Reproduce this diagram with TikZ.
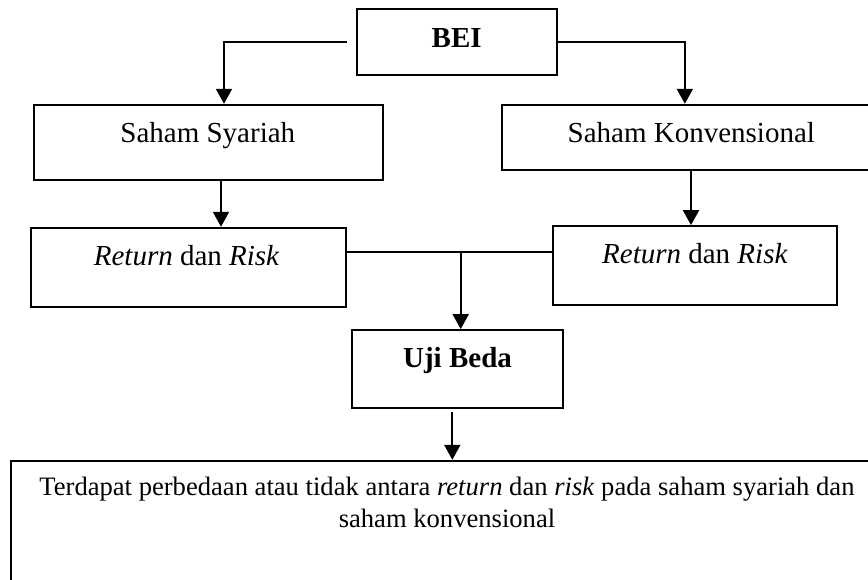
\documentclass[tikz,border=0pt]{standalone}
\usepackage{fontspec}
\setmainfont{Liberation Serif}
\usetikzlibrary{arrows.meta}
\begin{document}
\begin{tikzpicture}[x=1pt,y=-1pt,
    box/.style={draw,line width=1.8,inner sep=0,minimum width=#1},
    txt/.style={anchor=base,inner sep=0,font=\fontsize{29}{32}\selectfont},
    arr/.style={line width=2,-{Triangle[length=15,width=16]}}]
    \clip (0,0) rectangle (868,580);
    \node[box=200,minimum height=65.4] (bei) at (457,42) {};
    \node[box=349,minimum height=75.3] (ssy) at (208.5,142.35) {};
    \node[box=388.3,minimum height=65.3] (skv) at (695.85,137.35) {};
    \node[box=315,minimum height=79.6] (rl) at (188.2,267.5) {};
    \node[box=283.4,minimum height=79] (rr) at (695,265.5) {};
    \node[box=211.6,minimum height=77.7] (uji) at (457.5,368.85) {};
    \node[box=889,minimum height=159.3] (hasil) at (455.5,540.35) {};
    \node[txt] (tbei) at (456.7,47.3) {\textbf{BEI}};
    \node[txt] (tssy) at (207.8,142.3) {Saham Syariah};
    \node[txt] (tskv) at (691.3,142.3) {Saham Konvensional};
    \node[txt] (trl) at (186.7,265.7) {\textit{Return} dan \textit{Risk}};
    \node[txt] (trr) at (695,264) {\textit{Return} dan \textit{Risk}};
    \node[txt] (tuji) at (457.5,367.7) {\textbf{Uji Beda}};
    \node[txt,align=center,font=\fontsize{26.6}{32.3}\selectfont] (thasil) at (447,527.3)
        {Terdapat perbedaan atau tidak antara \textit{return} dan \textit{risk} pada saham syariah dan\\ saham konvensional};
    \coordinate (mid) at (460.7,252.3);
    \draw[arr,shorten <=9] (bei.west) -| ([xshift=15.5]ssy.north);
    \draw[arr] (bei.east) -| ([xshift=-11]skv.north);
    \draw[arr] ([xshift=12.5]ssy.south) -- ([xshift=12.5]ssy.south |- rl.north);
    \draw[arr] ([xshift=-4.85]skv.south) -- ([xshift=-4.85]skv.south |- rr.north);
    \draw[line width=1.8] (rl.east |- mid) -- (rr.west |- mid);
    \draw[arr] (mid) -- (mid |- uji.north);
    \draw[arr,shorten <=3] ([xshift=-5.2]uji.south) -- ([xshift=-5.2]uji.south |- hasil.north);
\end{tikzpicture}
\end{document}
